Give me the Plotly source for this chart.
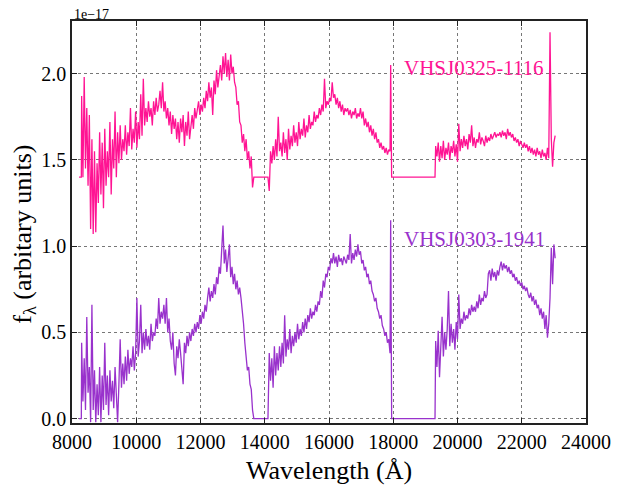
import numpy as np
import plotly.graph_objects as go

# ---------------- data (flux in units of 1e-17, pink offset by +1.4) ----------------
STEP = 40  # Angstrom sampling of the noisy segments

# VHSJ0325-1116 (pink)
pink_start_flat_x = [8220, 8290]
pink_start_flat_y = [1.40, 1.40]
pink_A_start = 8300
pink_A = [
    1.87, 1.40, 1.98, 1.45, 1.80, 1.35, 1.76, 1.10, 1.62, 1.07,
    1.55, 1.08, 1.48, 1.25, 1.66, 1.30, 1.60, 1.22, 1.68, 1.35,
    1.55, 1.40, 1.72, 1.30, 1.62, 1.45, 1.78, 1.40, 1.66, 1.48,
    1.70, 1.50, 1.62, 1.55, 1.70, 1.53, 1.66, 1.58, 1.80, 1.56,
    1.68, 1.60, 1.78, 1.57, 1.72, 1.62, 1.88, 1.64, 1.97, 1.70,
    1.80, 1.72, 1.84, 1.75, 1.80, 1.70, 1.84, 1.76, 1.86, 1.78,
    1.82, 1.90, 1.80, 1.95, 1.78, 1.84, 1.74, 1.80, 1.70, 1.78,
    1.65, 1.76, 1.68, 1.74, 1.62, 1.72, 1.60, 1.74, 1.66, 1.76,
    1.58, 1.72, 1.64, 1.78, 1.62, 1.70, 1.76, 1.68, 1.80, 1.74,
    1.78, 1.84, 1.76, 1.82, 1.78, 1.86, 1.80, 1.90, 1.84, 1.95,
    1.86, 1.92, 1.76, 1.96, 1.88, 2.02, 1.92, 1.98, 2.05, 1.96,
    2.10, 2.00, 2.12, 1.98, 2.08, 1.96, 2.11, 2.00, 2.04, 1.95,
    1.92, 1.82, 1.84, 1.72, 1.70, 1.60, 1.65, 1.55, 1.62, 1.50,
    1.55, 1.45, 1.52, 1.34,
]
pink_gap1_x = [13660, 14100]
pink_gap1_y = [1.40, 1.40]
pink_B_start = 14140
pink_B = [
    1.32, 1.55, 1.48, 1.58, 1.50, 1.62, 1.52, 1.75, 1.55, 1.60,
    1.52, 1.66, 1.54, 1.62, 1.50, 1.68, 1.56, 1.64, 1.58, 1.70,
    1.60, 1.66, 1.58, 1.72, 1.62, 1.68, 1.64, 1.74, 1.63, 1.70,
    1.66, 1.76, 1.68, 1.72, 1.70, 1.78, 1.72, 1.76, 1.74, 1.80,
    1.76, 1.82, 1.78, 1.97, 1.80, 1.84, 1.82, 1.86, 1.84, 1.95,
    1.86, 1.88, 1.82, 1.86, 1.80, 1.84, 1.78, 1.82, 1.76, 1.80,
    1.78, 1.80, 1.76, 1.79, 1.74, 1.78, 1.76, 1.80, 1.74, 1.77,
    1.75, 1.80, 1.74, 1.78, 1.70, 1.74, 1.69, 1.72, 1.66, 1.70,
    1.64, 1.68, 1.62, 1.66, 1.60, 1.62, 1.57, 1.60, 1.56, 1.58,
    1.54, 1.57, 1.53, 1.56, 1.55,
]
pink_gap2_x = [17920, 17950, 19300]
pink_gap2_y = [2.05, 1.40, 1.40]
pink_C_start = 19320
pink_C = [
    1.58, 1.52, 1.60, 1.49, 1.58, 1.51, 1.61, 1.50, 1.57, 1.53,
    1.60, 1.50, 1.58, 1.54, 1.61, 1.52, 1.59, 1.49, 1.71, 1.55,
    1.62, 1.57, 1.64, 1.58, 1.62, 1.56, 1.65, 1.60, 1.70, 1.58,
    1.63, 1.57, 1.62, 1.60, 1.66, 1.59, 1.63, 1.61, 1.58, 1.64,
    1.60, 1.63, 1.61, 1.65, 1.62, 1.64, 1.66, 1.63, 1.65, 1.64,
    1.66, 1.63, 1.67, 1.64, 1.66, 1.62, 1.68, 1.64, 1.66, 1.63,
    1.65, 1.61, 1.63, 1.60, 1.62, 1.58, 1.61, 1.59, 1.57, 1.60,
    1.57, 1.59, 1.55, 1.58, 1.54, 1.57, 1.53, 1.56, 1.52, 1.57,
    1.53, 1.55, 1.51, 1.56, 1.52, 1.54, 1.50, 1.57, 1.51, 2.24,
    1.62, 1.46, 1.60, 1.64,
]

# VHSJ0303-1941 (purple)
purp_start_flat_x = [8220, 8290]
purp_start_flat_y = [0.0, 0.0]
purp_A_start = 8300
purp_A = [
    0.44, 0.10, 0.35, 0.05, 0.59, 0.15, 0.30, -0.02, 0.66, 0.05,
    0.28, -0.02, 0.20, 0.02, 0.30, -0.02, 0.25, 0.05, 0.44, 0.08,
    0.25, 0.02, 0.28, 0.10, 0.22, 0.06, 0.30, 0.12, -0.02, 0.20,
    0.46, 0.18, 0.32, 0.20, 0.36, 0.22, 0.40, 0.26, 0.35, 0.30,
    0.42, 0.28, 0.38, 0.70, 0.36, 0.45, 0.66, 0.38, 0.50, 0.40,
    0.52, 0.42, 0.48, 0.40, 0.55, 0.45, 0.50, 0.48, 0.58, 0.52,
    0.70, 0.55, 0.62, 0.58, 0.66, 0.55, 0.70, 0.50, 0.58, 0.45,
    0.40, 0.50, 0.32, 0.25, 0.42, 0.35, 0.46, 0.38, 0.30, 0.20,
    0.44, 0.38, 0.48, 0.42, 0.50, 0.45, 0.52, 0.48, 0.55, 0.50,
    0.56, 0.52, 0.60, 0.55, 0.62, 0.58, 0.66, 0.62, 0.70, 0.76,
    0.68, 0.74, 0.70, 0.78, 0.72, 0.82, 0.78, 0.88, 0.84, 0.95,
    1.12, 0.90, 0.98, 0.85, 0.95, 1.01, 0.82, 0.88, 0.78, 0.84,
    0.75, 0.80, 0.72, 0.76, 0.70, 0.63, 0.55, 0.44, 0.36, 0.28,
    0.30, 0.20, 0.17, 0.05,
]
purp_gap1_x = [13660, 14100]
purp_gap1_y = [0.0, 0.0]
purp_B_start = 14140
purp_B = [
    0.38, 0.22, 0.35, 0.18, 0.42, 0.25, 0.38, 0.28, 0.42, 0.30,
    0.44, 0.32, 0.60, 0.36, 0.46, 0.40, 0.52, 0.38, 0.48, 0.42,
    0.50, 0.44, 0.55, 0.46, 0.52, 0.48, 0.56, 0.50, 0.58, 0.52,
    0.60, 0.56, 0.64, 0.58, 0.62, 0.60, 0.66, 0.62, 0.68, 0.66,
    0.74, 0.70, 0.80, 0.76, 0.84, 0.82, 0.88, 0.86, 0.93, 0.90,
    0.96, 0.90, 0.94, 0.88, 0.95, 0.91, 0.93, 0.89, 0.94, 0.92,
    0.90, 0.95, 0.92, 1.07, 0.90, 0.96, 0.92, 0.98, 0.94, 1.01,
    0.95, 0.97, 0.90, 0.92, 0.86, 0.88, 0.82, 0.84, 0.78, 0.80,
    0.74, 0.72, 0.68, 0.70, 0.64, 0.62, 0.58, 0.60, 0.54, 0.52,
    0.48, 0.50, 0.44, 0.46, 0.38,
]
purp_gap2_x = [17920, 17950, 19300]
purp_gap2_y = [1.15, 0.0, 0.0]
purp_C_start = 19320
purp_C = [
    0.45, 0.30, 0.51, 0.24, 0.48, 0.59, 0.36, 0.50, 0.40, 0.52,
    0.74, 0.42, 0.55, 0.44, 0.52, 0.40, 0.56, 0.46, 0.72, 0.52,
    0.58, 0.55, 0.62, 0.57, 0.60, 0.58, 0.64, 0.60, 0.66, 0.62,
    0.65, 0.62, 0.68, 0.64, 0.72, 0.66, 0.70, 0.68, 0.74, 0.70,
    0.72, 0.84, 0.86, 0.80, 0.87, 0.82, 0.85, 0.80, 0.86, 0.83,
    0.88, 0.91, 0.86, 0.90, 0.87, 0.89, 0.85, 0.88, 0.84, 0.86,
    0.82, 0.84, 0.80, 0.82, 0.78, 0.80, 0.77, 0.79, 0.75, 0.77,
    0.74, 0.76, 0.72, 0.70, 0.73, 0.68, 0.71, 0.66, 0.69, 0.64,
    0.66, 0.60, 0.64, 0.58, 0.62, 0.52, 0.60, 0.47, 0.55, 0.70,
    0.99, 0.78, 1.01, 0.93,
]

x_ticks = [8000, 10000, 12000, 14000, 16000, 18000, 20000, 22000, 24000]
y_ticks = [0.0, 0.5, 1.0, 1.5, 2.0]
names = ["VHSJ0325-1116", "VHSJ0303-1941"]
label_pos = [(18268, 2.035), (18268, 1.04)]
colors = ["#FF1493", "#9932CC"]


def grid(start, vals):
    return list(start + STEP * np.arange(len(vals)))


pink_x = pink_start_flat_x + grid(pink_A_start, pink_A) + pink_gap1_x + grid(pink_B_start, pink_B) + pink_gap2_x + grid(pink_C_start, pink_C)
pink_y = pink_start_flat_y + pink_A + pink_gap1_y + pink_B + pink_gap2_y + pink_C
purp_x = purp_start_flat_x + grid(purp_A_start, purp_A) + purp_gap1_x + grid(purp_B_start, purp_B) + purp_gap2_x + grid(purp_C_start, purp_C)
purp_y = purp_start_flat_y + purp_A + purp_gap1_y + purp_B + purp_gap2_y + purp_C

FONT = "'Liberation Serif', 'Times New Roman', Times, 'DejaVu Serif', serif"

fig = go.Figure()
for xs, ys, c, n in [(pink_x, pink_y, colors[0], names[0]), (purp_x, purp_y, colors[1], names[1])]:
    fig.add_trace(go.Scatter(x=xs, y=ys, mode="lines", line=dict(color=c, width=1.3),
                             name=n, showlegend=False))

for (lx, ly), c, n in zip(label_pos, colors, names):
    fig.add_annotation(x=lx, y=ly, xref="x", yref="y", text=n, showarrow=False,
                       xanchor="left", yanchor="middle",
                       font=dict(family=FONT, size=21, color=c))

# axis titles and offset text
fig.add_annotation(x=0.5, y=-0.117, xref="paper", yref="paper", text="Wavelength (Å)",
                   showarrow=False, xanchor="center", yanchor="middle",
                   font=dict(family=FONT, size=26, color="black"))
fig.add_annotation(x=-0.094, y=0.47, xref="paper", yref="paper",
                   text="f<sub>λ</sub> (arbitary units)", textangle=-90,
                   showarrow=False, xanchor="center", yanchor="middle",
                   font=dict(family=FONT, size=26, color="black"))
fig.add_annotation(x=0, y=1.017, xref="paper", yref="paper", text="1e−17",
                   showarrow=False, xanchor="left", yanchor="middle",
                   font=dict(family=FONT, size=14, color="black"))

axis_common = dict(showline=True, mirror="ticks", linecolor="#222", linewidth=1.5,
                   ticks="inside", ticklen=5, tickcolor="#222", tickwidth=1,
                   showgrid=True, gridcolor="#777", griddash="dot", gridwidth=1,
                   zeroline=False, tickfont=dict(family=FONT, size=20, color="black"))

fig.update_xaxes(range=[8000, 24000], tickvals=x_ticks, ticktext=[str(v) for v in x_ticks],
                 **axis_common)
fig.update_yaxes(range=[-0.025, 2.305], tickvals=y_ticks, ticktext=[f"{v:.1f}" for v in y_ticks],
                 **axis_common)

# the page body has an 8px margin, so the figure is 8px smaller and margins shifted
fig.update_layout(width=614, height=483, margin=dict(l=64, r=28, t=11, b=68),
                  plot_bgcolor="white", paper_bgcolor="white",
                  font=dict(family=FONT, color="black"))

fig.write_html("out.html")
